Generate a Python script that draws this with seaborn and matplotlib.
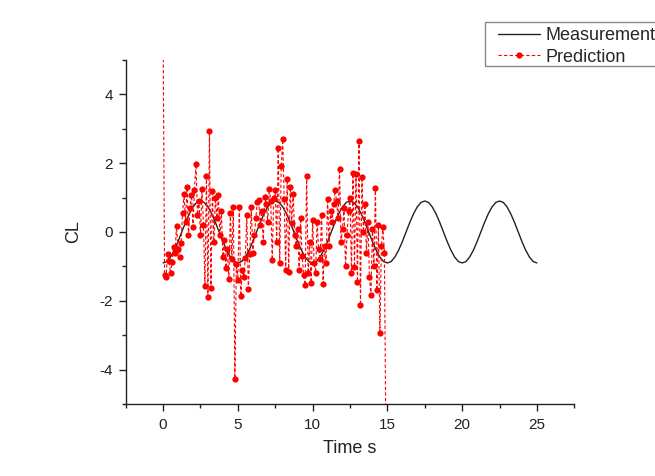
import numpy as np
import pandas as pd
import matplotlib
matplotlib.use("Agg")
import matplotlib.pyplot as plt
import seaborn as sns
from matplotlib.ticker import MultipleLocator
from matplotlib.patches import Rectangle

meas_time = np.arange(0, 25.01, 0.25)
meas_cl = [
    -0.90, -0.86, -0.73, -0.53, -0.28, 0.00, 0.28, 0.53, 0.73, 0.86,
    0.90, 0.86, 0.73, 0.53, 0.28, 0.00, -0.28, -0.53, -0.73, -0.86,
    -0.90, -0.86, -0.73, -0.53, -0.28, 0.00, 0.28, 0.53, 0.73, 0.86,
    0.90, 0.86, 0.73, 0.53, 0.28, 0.00, -0.28, -0.53, -0.73, -0.86,
    -0.90, -0.86, -0.73, -0.53, -0.28, 0.00, 0.28, 0.53, 0.73, 0.86,
    0.90, 0.86, 0.73, 0.53, 0.28, 0.00, -0.28, -0.53, -0.73, -0.86,
    -0.90, -0.86, -0.73, -0.53, -0.28, 0.00, 0.28, 0.53, 0.73, 0.86,
    0.90, 0.86, 0.73, 0.53, 0.28, 0.00, -0.28, -0.53, -0.73, -0.86,
    -0.90, -0.86, -0.73, -0.53, -0.28, 0.00, 0.28, 0.53, 0.73, 0.86,
    0.90, 0.86, 0.73, 0.53, 0.28, 0.00, -0.28, -0.53, -0.73, -0.86,
    -0.90,
]

# predicted CL, one value every 0.1 s from 0 to 14.9 s
pred_time = np.arange(0, 14.95, 0.1)
pred_cl = [
    6.00, -1.26, -1.30, -0.63, -0.85, -1.20, -0.87, -0.44, -0.60, 0.17,
    -0.50, -0.73, -0.33, 0.54, 1.10, 0.30, 1.30, -0.10, 0.70, 1.07,
    0.15, 1.23, 1.97, 0.49, 0.90, -0.10, 1.26, 0.20, -1.58, 1.62,
    -1.89, 2.93, -1.63, 1.20, -0.29, 1.00, 0.40, 1.07, -0.10, 0.60,
    -0.73, -0.24, -1.05, -0.50, -1.36, 0.54, -0.80, 0.73, -4.26, -0.92,
    -1.40, 0.73, -1.87, -1.10, -1.30, -0.75, 0.49, -1.65, -0.63, 0.73,
    -0.60, -0.10, 0.40, 0.87, 0.92, 0.20, 0.60, -0.30, 1.02, 0.80,
    0.30, 1.26, 0.90, -0.82, 1.00, 1.21, -0.30, 2.44, -0.90, 1.91,
    2.69, 0.95, -1.10, 1.55, -1.16, 1.30, 0.25, 1.10, -0.10, -0.40,
    0.10, -1.11, 0.40, -0.70, -1.26, -1.55, 1.62, -1.20, -0.30, -1.48,
    0.34, -0.90, -1.20, 0.30, -0.50, -0.80, 0.50, -1.50, -0.40, -0.90,
    0.97, -0.40, 0.60, 0.30, 0.80, 1.21, 0.90, 0.40, 1.84, -0.30,
    0.10, 0.70, -1.00, -0.10, 0.60, 1.00, -1.20, 1.70, -1.02, 1.68,
    -1.45, 2.65, -2.13, 1.60, 0.00, 0.80, -0.60, 0.30, -1.30, -1.84,
    0.10, -1.00, 1.29, -1.70, 0.20, -2.94, -0.40, 0.15, -0.61, -6.00,
]

meas = pd.DataFrame({"time": meas_time, "cl": meas_cl})
pred = pd.DataFrame({"time": pred_time, "cl": pred_cl})

sns.set_style("ticks")
plt.rcParams["font.family"] = ["Liberation Sans", "DejaVu Sans"]
plt.rcParams["axes.unicode_minus"] = False

fig = plt.figure(figsize=(6.55, 4.76), dpi=100)
ax = fig.add_axes([0.1919, 0.1513, 0.6849, 0.7227])

sns.lineplot(data=meas, x="time", y="cl", ax=ax, color="#222222", linewidth=1.0,
             sort=False, estimator=None, label="Measurement")
sns.lineplot(data=pred, x="time", y="cl", ax=ax, color="#ff0000", linewidth=0.8,
             dashes=False, sort=False, estimator=None, marker="o", markersize=4.5,
             markeredgewidth=0, label="Prediction")
ax.lines[1].set_dashes([3, 2])

ax.set_xlim(-2.5, 27.5)
ax.set_ylim(-5, 5)
ax.xaxis.set_major_locator(MultipleLocator(5))
ax.xaxis.set_minor_locator(MultipleLocator(2.5))
ax.yaxis.set_major_locator(MultipleLocator(2))
ax.yaxis.set_minor_locator(MultipleLocator(1))
ax.tick_params(which="major", direction="out", length=5, width=1, labelsize=11,
               color="#222222", labelcolor="#222222")
ax.tick_params(which="minor", direction="out", length=3, width=1, color="#222222")
ax.tick_params(axis="x", pad=5)
ax.tick_params(axis="y", pad=4)

for side in ["left", "bottom"]:
    ax.spines[side].set_linewidth(1.0)
    ax.spines[side].set_color("#222222")
sns.despine(ax=ax)

ax.set_xlabel("Time s", fontsize=13, labelpad=6, color="#222222")
ax.set_ylabel("CL", fontsize=13, labelpad=13, color="#222222")

# legend: box runs off the right edge like in the original export
ax.get_legend().remove()
handles, labels = ax.get_legend_handles_labels()
fig.patches.append(Rectangle((485 / 655, 1 - 66 / 476), 0.5, 44.3 / 476,
                             transform=fig.transFigure, fill=False,
                             edgecolor="#888888", linewidth=1.0))
fig.legend(handles, labels, loc="upper left",
           bbox_to_anchor=(493 / 655, 1 - 21.7 / 476), borderaxespad=0,
           fontsize=13, frameon=False, handlelength=2.3, handletextpad=0.3,
           labelspacing=0.25, borderpad=0.3)

fig.savefig("out.png", dpi=100)
